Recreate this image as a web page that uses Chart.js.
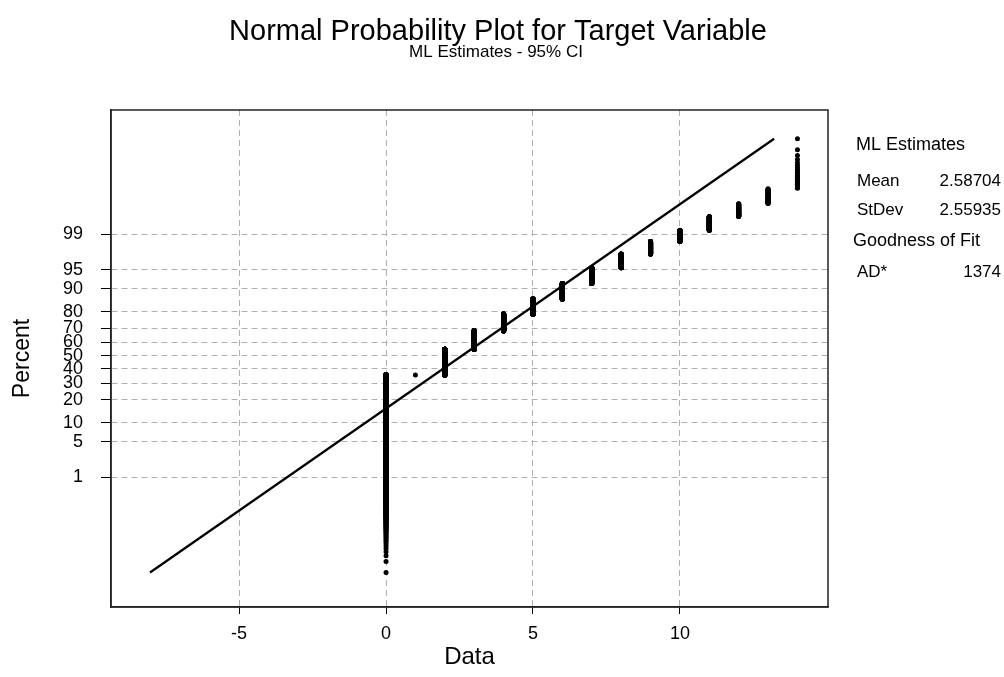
<!DOCTYPE html>
<html>
<head>
<meta charset="utf-8">
<title>Normal Probability Plot for Target Variable</title>
<script src="https://cdn.jsdelivr.net/npm/chart.js@4.4.1/dist/chart.umd.min.js"></script>
<style>
  html, body { margin: 0; padding: 0; background: #fff; }
  #plot { display: block; }
</style>
</head>
<body>
<canvas id="plot" width="1004" height="677"></canvas>
<script>
// observed values of the target and how often each one occurs
const dataValues = [0, 1, 2, 3, 4, 5, 6, 7, 8, 9, 10, 11, 12, 13, 14];
const dataCounts = [14939, 1, 8119, 5594, 4406, 3087, 2348, 1562, 853, 485, 260, 183, 87, 47, 29];

// maximum likelihood fit and goodness of fit
const mlMean = 2.58704;
const mlStDev = 2.55935;
const adStat = 1374;

// axis ticks
const percentTicks = [1, 5, 10, 20, 30, 40, 50, 60, 70, 80, 90, 95, 99];
const dataTicks = [-5, 0, 5, 10];

const FONT = '"Liberation Sans", Arial, sans-serif';

// inverse standard normal cdf (Acklam)
function qnorm(p) {
  const a = [-3.969683028665376e+01, 2.209460984245205e+02, -2.759285104469687e+02,
             1.383577518672690e+02, -3.066479806614716e+01, 2.506628277459239e+00];
  const b = [-5.447609879822406e+01, 1.615858368580409e+02, -1.556989798598866e+02,
             6.680131188771972e+01, -1.328068155288572e+01];
  const c = [-7.784894002430293e-03, -3.223964580411365e-01, -2.400758277161838e+00,
             -2.549732539343734e+00, 4.374664141464968e+00, 2.938163982698783e+00];
  const d = [7.784695709041462e-03, 3.224671290700398e-01, 2.445134137142996e+00,
             3.754408661907416e+00];
  const tail = q => (((((c[0]*q + c[1])*q + c[2])*q + c[3])*q + c[4])*q + c[5]) /
                    ((((d[0]*q + d[1])*q + d[2])*q + d[3])*q + 1);
  if (p < 0.02425) return tail(Math.sqrt(-2 * Math.log(p)));
  if (p > 1 - 0.02425) return -tail(Math.sqrt(-2 * Math.log(1 - p)));
  const q = p - 0.5, r = q * q;
  return (((((a[0]*r + a[1])*r + a[2])*r + a[3])*r + a[4])*r + a[5]) * q /
         (((((b[0]*r + b[1])*r + b[2])*r + b[3])*r + b[4])*r + 1);
}

// median rank plotting positions, y in normal score units
const total = dataCounts.reduce((s, c) => s + c, 0);
const probPoints = [];
let rank = 0;
dataValues.forEach((v, k) => {
  for (let j = 0; j < dataCounts[k]; j++) {
    rank++;
    probPoints.push({ x: v, y: qnorm((rank - 0.3) / (total + 0.4)) });
  }
});

// fitted normal line over the range of the plotted scores
const zLow = probPoints[0].y;
const zHigh = probPoints[probPoints.length - 1].y;
const fitLine = [
  { x: mlMean + mlStDev * zLow, y: zLow },
  { x: mlMean + mlStDev * zHigh, y: zHigh }
];

const decorations = {
  id: 'decorations',
  afterDraw(chart) {
    const { ctx, chartArea: a } = chart;
    ctx.save();
    ctx.strokeStyle = '#222';
    ctx.lineWidth = 1.5;
    ctx.strokeRect(a.left, a.top, a.right - a.left, a.bottom - a.top);

    ctx.fillStyle = '#000';
    ctx.textAlign = 'center';
    ctx.textBaseline = 'alphabetic';
    ctx.font = '29px ' + FONT;
    ctx.fillText('Normal Probability Plot for Target Variable', 498, 40);
    ctx.font = '17px ' + FONT;
    ctx.fillText('ML Estimates - 95% CI', 496, 57);

    // side panel
    ctx.textBaseline = 'middle';
    ctx.textAlign = 'left';
    ctx.font = '18px ' + FONT;
    ctx.fillText('ML Estimates', 856, 145);
    ctx.fillText('Goodness of Fit', 853, 241);
    ctx.font = '17px ' + FONT;
    ctx.fillText('Mean', 857, 181);
    ctx.fillText('StDev', 857, 210);
    ctx.fillText('AD*', 857, 272);
    ctx.textAlign = 'right';
    ctx.fillText(mlMean.toFixed(5), 1001, 181);
    ctx.fillText(mlStDev.toFixed(5), 1001, 210);
    ctx.fillText(String(adStat), 1001, 272);
    ctx.restore();
  }
};

new Chart(document.getElementById('plot'), {
  type: 'scatter',
  data: {
    datasets: [
      {
        type: 'line',
        data: fitLine,
        borderColor: '#000',
        borderWidth: 2.2,
        pointRadius: 0,
        fill: false,
        order: 0
      },
      {
        data: probPoints,
        pointRadius: 2.5,
        pointBackgroundColor: '#000',
        pointBorderWidth: 0,
        order: 1
      }
    ]
  },
  options: {
    responsive: false,
    animation: false,
    devicePixelRatio: 1,
    layout: { padding: { top: 110, right: 176, left: 0, bottom: 0 } },
    plugins: {
      legend: { display: false },
      tooltip: { enabled: false }
    },
    scales: {
      x: {
        type: 'linear',
        min: -9.36,
        max: 15.04,
        afterBuildTicks: s => { s.ticks = dataTicks.map(v => ({ value: v })); },
        afterFit: s => { s.height = 70; },
        grid: { color: '#b0b0b0', tickColor: '#000', tickLength: 7, tickBorderDash: [] },
        border: { dash: [6, 4], color: '#222', width: 1.5 },
        ticks: { font: { family: FONT, size: 18 }, color: '#000', padding: 9, maxRotation: 0 },
        title: {
          display: true, text: 'Data', color: '#000',
          font: { family: FONT, size: 24 }, padding: { top: 0, bottom: 5 }
        }
      },
      y: {
        type: 'linear',
        min: -4.81,
        max: 4.70,
        afterBuildTicks: s => { s.ticks = percentTicks.map(p => ({ value: qnorm(p / 100) })); },
        afterFit: s => { s.width = 111; },
        grid: { color: '#b0b0b0', tickColor: '#000', tickLength: 10, tickBorderDash: [] },
        border: { dash: [6, 4], color: '#222', width: 1.5 },
        ticks: {
          autoSkip: false,
          font: { family: FONT, size: 18 },
          color: '#000',
          padding: 18,
          callback: (v, i) => String(percentTicks[i])
        },
        title: {
          display: true, text: 'Percent', color: '#000',
          font: { family: FONT, size: 23 }, padding: { top: 9, bottom: 0 }
        }
      }
    }
  },
  plugins: [decorations]
});
</script>
</body>
</html>
